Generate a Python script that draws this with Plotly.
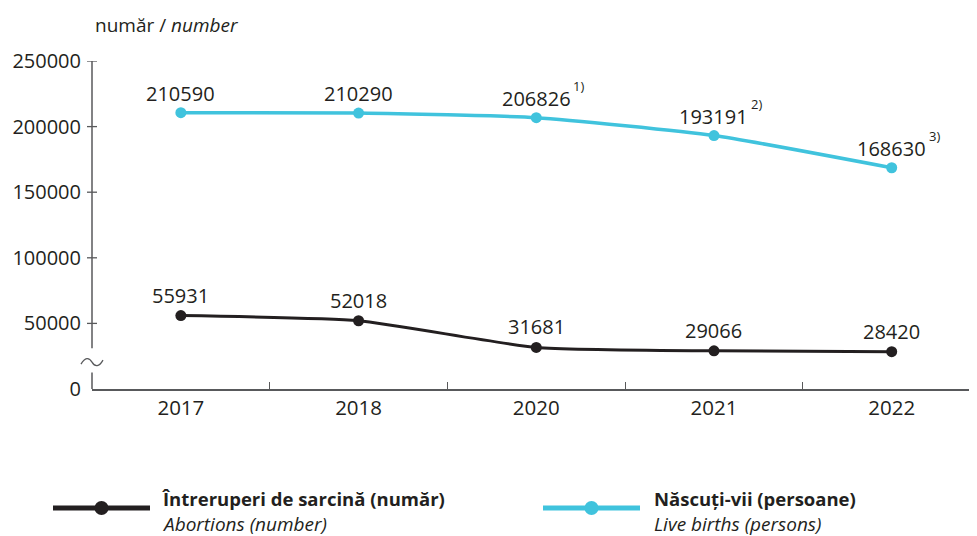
import plotly.graph_objects as go

years = ["2017", "2018", "2020", "2021", "2022"]
abortions = [55931, 52018, 31681, 29066, 28420]
births = [210590, 210290, 206826, 193191, 168630]
birth_notes = ["", "", "1)", "2)", "3)"]
y_ticks = [0, 50000, 100000, 150000, 200000, 250000]

BLACK = "#231F20"
CYAN = "#40C3DD"
AXIS = "#58595B"
FONT = "Open Sans"

OFF = 8  # page body margin offset
W, H = 977 - OFF, 536 - OFF
ML, MT = 92 - OFF, 61 - OFF
MR = 0
MB = H - (389 - OFF)
PW, PH = W - ML - MR, H - MT - MB


def px(X):
    return (X - OFF - ML) / PW


def py(Y):
    return (H - MB - (Y - OFF)) / PH


fig = go.Figure()
fig.add_trace(go.Scatter(x=years, y=births, mode="lines+markers",
                         line=dict(color=CYAN, width=3.5, shape="spline", smoothing=0.5),
                         marker=dict(size=11, color=CYAN), showlegend=False, cliponaxis=False))
fig.add_trace(go.Scatter(x=years, y=abortions, mode="lines+markers",
                         line=dict(color=BLACK, width=3, shape="spline", smoothing=0.5),
                         marker=dict(size=11, color=BLACK), showlegend=False, cliponaxis=False))

ann = []
shapes = []
for i, v in enumerate(abortions):
    ann.append(dict(x=i, y=v, xref="x", yref="y", text=str(v), showarrow=False,
                    yanchor="bottom", yshift=5,
                    font=dict(family=FONT, size=20, color=BLACK)))
for i, (v, n) in enumerate(zip(births, birth_notes)):
    ann.append(dict(x=i, y=v, xref="x", yref="y", text=str(v), showarrow=False,
                    yanchor="bottom", yshift=4,
                    font=dict(family=FONT, size=20, color=BLACK)))
    if n:
        ann.append(dict(x=i, y=v, xref="x", yref="y", text=n, showarrow=False,
                        xanchor="left", yanchor="bottom", xshift=35, yshift=21,
                        font=dict(family=FONT, size=13, color=BLACK)))

# ticks crossing the y axis
for t in y_ticks[1:]:
    shapes.append(dict(type="line", xref="paper", yref="y", xsizemode="pixel", xanchor=0,
                       x0=-5, x1=5, y0=t, y1=t, line=dict(color=AXIS, width=1.3)))

# broken y axis line
shapes.append(dict(type="line", xref="paper", yref="y", x0=0, x1=0, y0=31000, y1=250000,
                   line=dict(color=AXIS, width=1.5)))
shapes.append(dict(type="line", xref="paper", yref="y", x0=0, x1=0, y0=0, y1=12500,
                   line=dict(color=AXIS, width=1.5)))
# tilde break mark
shapes.append(dict(type="path", xref="paper", yref="y", xsizemode="pixel", ysizemode="pixel",
                   xanchor=0, yanchor=20500,
                   path="M-11,-2 C-7,5 -3,5 0,0 C3,-5 7,-5 11,2",
                   line=dict(color=AXIS, width=1.3)))


def legend_item(x0, x1, color, lw, title, sub, tx):
    yl = py(508)
    shapes.append(dict(type="line", xref="paper", yref="paper", x0=px(x0), x1=px(x1),
                       y0=yl, y1=yl, line=dict(color=color, width=lw)))
    xm = (x0 + x1) / 2
    shapes.append(dict(type="circle", xref="paper", yref="paper", xsizemode="pixel",
                       ysizemode="pixel", xanchor=px(xm), yanchor=yl,
                       x0=-7, x1=7, y0=-7, y1=7, fillcolor=color, line=dict(width=0)))
    ann.append(dict(xref="paper", yref="paper", x=px(tx), y=py(498), xanchor="left",
                    yanchor="middle", text="<b>" + title + "</b>", showarrow=False,
                    font=dict(family=FONT, size=18.5, color=BLACK)))
    ann.append(dict(xref="paper", yref="paper", x=px(tx), y=py(523.5), xanchor="left",
                    yanchor="middle", text="<i>" + sub + "</i>", showarrow=False,
                    font=dict(family=FONT, size=19, color=BLACK)))


legend_item(53, 150, BLACK, 5, "Întreruperi de sarcină (număr)", "Abortions (number)", 160)
legend_item(543, 640, CYAN, 5, "Născuți-vii (persoane)", "Live births (persons)", 652)

ann.append(dict(xref="paper", yref="paper", x=px(93), y=py(25), xanchor="left", yanchor="middle",
                text="număr / <i>number</i>", showarrow=False,
                font=dict(family=FONT, size=19, color=BLACK)))

fig.update_layout(
    width=W, height=H, margin=dict(l=ML, r=MR, t=MT, b=MB),
    paper_bgcolor="white", plot_bgcolor="white",
    font=dict(family=FONT, size=20, color=BLACK),
    xaxis=dict(type="category", range=[-0.5, 4.48], tickson="boundaries", ticks="inside",
               ticklen=7, tickcolor=AXIS, tickwidth=1.3, showline=True, linecolor=AXIS,
               linewidth=1.5, showgrid=False, zeroline=False, fixedrange=True,
               tickfont=dict(family=FONT, size=20.5, color=BLACK)),
    yaxis=dict(range=[0, 250000], tickvals=y_ticks, ticktext=[str(t) for t in y_ticks],
               ticks="", showline=False, showgrid=False, zeroline=False, ticklabelstandoff=10,
               tickfont=dict(family=FONT, size=20, color=BLACK)),
    annotations=ann, shapes=shapes,
)

fig.write_html("out.html")
